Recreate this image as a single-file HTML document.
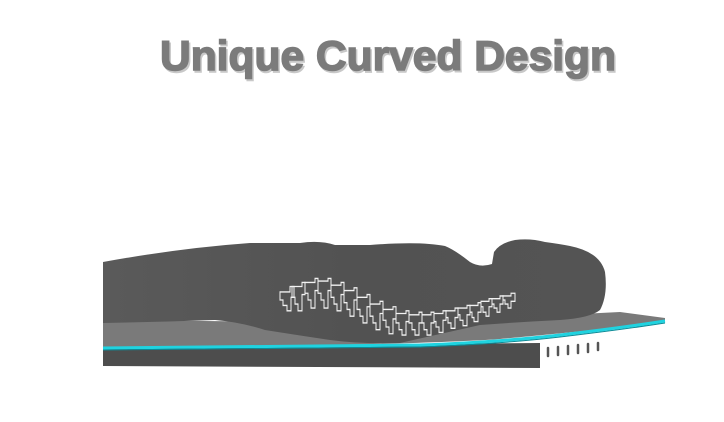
<!DOCTYPE html>
<html><head><meta charset="utf-8"><style>
html,body{margin:0;padding:0;background:#fff;width:724px;height:422px;overflow:hidden}
</style></head><body>
<svg width="724" height="422" viewBox="0 0 724 422" xmlns="http://www.w3.org/2000/svg">
<defs>
<linearGradient id="bd" x1="0" y1="0" x2="1" y2="0">
<stop offset="0" stop-color="#5a5a5a"/><stop offset="0.5" stop-color="#525252"/><stop offset="1" stop-color="#545454"/>
</linearGradient>
</defs>
<text x="388" y="70" text-anchor="middle" font-family="Liberation Sans, sans-serif" font-weight="bold" font-size="42" fill="#c8c8c8" stroke="#c8c8c8" stroke-width="1.5" textLength="456" lengthAdjust="spacingAndGlyphs" transform="translate(1.5,2)">Unique Curved Design</text>
<text x="388" y="70" text-anchor="middle" font-family="Liberation Sans, sans-serif" font-weight="bold" font-size="42" fill="#7b7b7b" stroke="#7b7b7b" stroke-width="1.5" textLength="456" lengthAdjust="spacingAndGlyphs">Unique Curved Design</text>

<path d="M103 346 L540 343 L540 368 L103 366 Z" fill="#4d4d4d"/>
<g stroke="#555" stroke-width="2.5" stroke-linecap="round">
<line x1="548" y1="348" x2="548" y2="356"/><line x1="558" y1="347" x2="558" y2="355"/><line x1="568" y1="346" x2="568" y2="354"/><line x1="578" y1="345" x2="578" y2="353"/><line x1="588" y1="344" x2="588" y2="352"/><line x1="598" y1="343" x2="598" y2="350"/>
</g>
<path d="M103 320 L300 322 L500 318 L620 312 L665 318 L665 322 Q600 330 500 339 Q400 346 103 347 Z" fill="#7a7a7a"/>
<path d="M103 348 Q300 346 420 345 Q500 342 560 335 Q620 328 665 321" fill="none" stroke="#1fd3e0" stroke-width="3"/>
<path d="M103 350 Q300 348 420 347 Q500 344 560 337 Q620 330 665 323" fill="none" stroke="#0a8a96" stroke-width="1"/>
<path d="M103 262 Q180 248 250 243 L300 243 Q320 240 335 245 L370 245 Q420 241 445 246 Q455 250 470 262 Q480 268 492 264 L494 252 Q500 243 515 240 Q530 238 545 242 Q560 244 570 246 Q600 252 605 272 Q608 295 600 310 Q590 318 560 320 Q520 322 480 325 Q440 334 400 343 Q360 344 330 340 Q290 334 265 330 Q240 322 215 320 Q160 322 103 323 Z" fill="url(#bd)"/>
<g fill="none" stroke="#f2f2f2" stroke-width="1" transform="translate(0,-105) scale(1,1.35)">
<path d="M280 294 h10 v-4 h4 v8 h-3 v10 h-4 v-4 h-4 v-4 h-3 z"/>
<path d="M292 290 h10 v-3 h3 v9 h-3 v12 h-4 v-5 h-3 v-5 h-3 z"/>
<path d="M305 287 h10 v-3 h3 v9 h-3 v13 h-4 v-6 h-3 v-5 h-3 z"/>
<path d="M318 286 h10 v-2 h3 v9 h-3 v13 h-4 v-6 h-3 v-5 h-3 z"/>
<path d="M331 289 h10 v-2 h3 v9 h-3 v12 h-4 v-5 h-3 v-5 h-3 z"/>
<path d="M344 293 h10 v-2 h3 v9 h-3 v12 h-4 v-5 h-3 v-5 h-3 z"/>
<path d="M357 298 h10 v-2 h3 v9 h-3 v12 h-4 v-5 h-3 v-5 h-3 z"/>
<path d="M370 303 h10 v-2 h3 v9 h-3 v12 h-4 v-5 h-3 v-5 h-3 z"/>
<path d="M383 307 h10 v-2 h3 v9 h-3 v11 h-4 v-5 h-3 v-5 h-3 z"/>
<path d="M396 310 h10 v-2 h3 v8 h-3 v10 h-4 v-4 h-3 v-5 h-3 z"/>
<path d="M409 311 h10 v-2 h3 v8 h-3 v9 h-4 v-4 h-3 v-5 h-3 z"/>
<path d="M422 311 h9 v-2 h3 v8 h-3 v9 h-4 v-4 h-3 v-5 h-2 z"/>
<path d="M434 310 h9 v-2 h3 v7 h-3 v9 h-4 v-4 h-3 v-4 h-2 z"/>
<path d="M446 308 h9 v-2 h3 v7 h-3 v8 h-4 v-4 h-3 v-4 h-2 z"/>
<path d="M458 306 h9 v-2 h3 v7 h-3 v8 h-4 v-4 h-3 v-4 h-2 z"/>
<path d="M470 304 h8 v-2 h3 v7 h-3 v7 h-4 v-3 h-2 v-4 h-2 z"/>
<path d="M481 301 h8 v-2 h3 v6 h-3 v7 h-3 v-3 h-3 v-4 h-2 z"/>
<path d="M492 299 h8 v-2 h3 v6 h-3 v6 h-3 v-3 h-3 v-3 h-2 z"/>
<path d="M503 297 h8 v-2 h4 v6 h-4 v5 h-3 v-3 h-3 v-3 h-2 z"/>
</g>
</svg>
</body></html>
